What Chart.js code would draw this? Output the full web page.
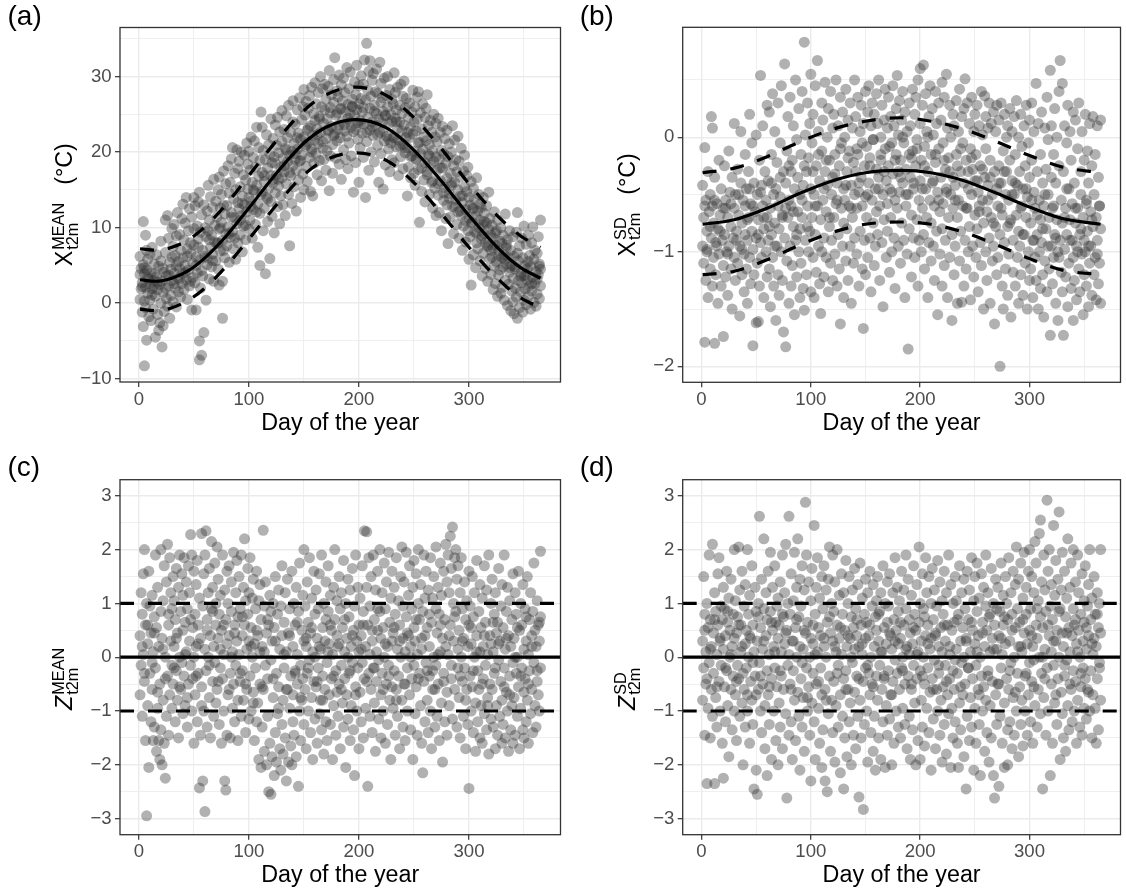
<!DOCTYPE html>
<html lang="en">
<head>
<meta charset="UTF-8">
<title>Seasonal cycle of t2m mean and sd</title>
<script src="https://cdn.jsdelivr.net/npm/chart.js"></script>
<style>
  body { margin: 0; background: #fff; }
  #wrap { position: relative; width: 1126px; height: 893px; background: #fff; overflow: hidden; }
  .cell { position: absolute; }
</style>
</head>
<body>
<div id="wrap">
  <div class="cell" style="left:0;top:0"><canvas id="ca" width="566" height="446"></canvas></div>
  <div class="cell" style="left:566px;top:0"><canvas id="cb" width="560" height="446"></canvas></div>
  <div class="cell" style="left:0;top:446px"><canvas id="cc" width="566" height="447"></canvas></div>
  <div class="cell" style="left:566px;top:446px"><canvas id="cd" width="560" height="447"></canvas></div>
</div>
<script>
const FONT = "'Liberation Sans', Arial, sans-serif";

// x axis (day of the year), shared by all panels
const xMajor = [0, 100, 200, 300];
const xTickLabels = ['0', '100', '200', '300'];
const xMinor = [50, 150, 250, 350];

// y ticks per panel
const yMajorA = [-10, 0, 10, 20, 30];
const yLabelsA = ['\u221210', '0', '10', '20', '30'];
const yMinorA = [-5, 5, 15, 25, 35];
const yMajorB = [-2, -1, 0];
const yLabelsB = ['\u22122', '\u22121', '0'];
const yMinorB = [-1.5, -0.5, 0.5];
const yMajorZ = [-3, -2, -1, 0, 1, 2, 3];
const yLabelsZ = ['\u22123', '\u22122', '\u22121', '0', '1', '2', '3'];
const yMinorZ = [-2.5, -1.5, -0.5, 0.5, 1.5, 2.5];

// fitted seasonal curves, panel (a)
const curveDaysA = [1, 16, 30, 45, 60, 80, 100, 125, 150, 170, 197, 225, 249, 273, 300, 325, 346, 365];
const meanA  = [3.1, 2.9, 3.3, 4.3, 6.0, 9.0, 12.6, 17.2, 21.2, 23.3, 24.3, 23.2, 20.4, 16.5, 11.6, 7.5, 4.8, 3.3];
const upperA = [7.2, 7.0, 7.4, 8.4, 10.1, 13.2, 16.9, 21.5, 25.5, 27.6, 28.6, 27.5, 24.7, 20.8, 15.8, 11.7, 9.0, 7.4];
const lowerA = [-0.8, -1.0, -0.6, 0.4, 2.0, 5.0, 8.5, 13.0, 17.0, 19.0, 19.9, 18.9, 16.1, 12.2, 7.4, 3.4, 0.8, -0.6];

// fitted seasonal curves, panel (b)
const curveDaysB = [1, 30, 60, 90, 120, 150, 182, 210, 240, 270, 300, 330, 365];
const meanB  = [-0.76, -0.72, -0.62, -0.49, -0.38, -0.31, -0.29, -0.31, -0.38, -0.49, -0.61, -0.71, -0.76];
const upperB = [-0.31, -0.27, -0.17, -0.04, 0.07, 0.14, 0.17, 0.14, 0.07, -0.04, -0.16, -0.26, -0.31];
const lowerB = [-1.2, -1.17, -1.07, -0.94, -0.83, -0.76, -0.74, -0.76, -0.83, -0.94, -1.06, -1.16, -1.2];

// reference levels for standardized panels
const zLevels = [1, 0, -1];

// observations [day, value]
const ptsA = [[1,3.8],[1,0.5],[1,6.2],[2,1.9],[2,4.6],[3,-1.2],[3,2.7],[4,10.8],[4,5.1],[4,-3.1],[5,0.3],[5,3.9],[5,-8.3],[6,9.0],[6,2.1],[6,-0.6],[7,4.4],[7,7.0],[7,-4.9],[8,1.3],[8,5.8],[9,-1.8],[9,3.2],[10,0.4],[10,6.5],[10,2.6],
[11,-2.3],[11,4.0],[12,1.1],[12,7.4],[13,3.0],[13,-0.8],[14,5.2],[14,2.2],[15,-4.5],[15,0.9],[16,6.4],[16,3.5],[17,-1.5],[17,1.8],[18,-3.6],[18,4.9],[19,2.5],[19,-2.6],[20,0.0],[20,5.6],[20,8.2],
[21,-5.8],[21,2.9],[22,-3.0],[22,1.4],[23,4.1],[23,-1.1],[24,11.0],[24,6.7],[25,0.6],[25,3.6],[26,11.6],[26,-0.4],[27,2.3],[27,8.6],[28,5.4],[28,-2.0],[29,1.0],[29,4.5],[30,9.9],[30,3.0],[30,6.1],
[31,0.2],[31,7.5],[32,4.0],[32,10.4],[33,2.0],[33,6.3],[34,-0.5],[34,8.9],[35,3.3],[35,12.0],[36,5.5],[36,1.5],[37,9.1],[37,4.6],[38,7.0],[38,0.8],[39,11.2],[39,2.6],[40,6.0],[40,13.1],[40,3.9],
[41,8.4],[41,1.8],[42,5.0],[42,10.6],[43,3.1],[43,14.0],[44,7.2],[44,0.5],[45,9.6],[45,4.4],[46,12.5],[46,2.3],[47,6.6],[47,8.0],[48,-0.9],[48,11.4],[49,5.3],[49,3.4],[50,14.0],[50,7.7],[50,9.9],
[51,2.7],[51,12.9],[52,-0.9],[52,6.1],[53,10.2],[53,4.0],[54,8.5],[54,13.4],[55,-7.5],[55,-5.0],[55,14.7],[55,5.7],[56,9.4],[56,2.0],[57,-6.9],[57,11.7],[58,7.0],[58,3.6],[59,-3.9],[59,13.0],[60,6.2],[60,10.0],
[61,0.4],[61,8.8],[62,12.2],[62,5.1],[63,15.6],[63,9.6],[64,3.2],[64,11.0],[65,7.4],[65,14.1],[66,4.8],[66,9.0],[67,12.7],[67,6.5],[68,16.4],[68,2.9],[69,10.3],[69,8.1],[70,13.5],[70,5.6],
[71,11.4],[71,7.9],[72,15.0],[72,4.5],[73,2.4],[73,16.7],[73,9.8],[74,12.6],[74,6.9],[75,14.4],[75,10.7],[76,2.9],[76,-2.0],[76,8.3],[77,13.0],[77,17.5],[78,6.0],[78,11.8],[79,15.8],[79,9.2],[80,7.6],[80,12.9],
[81,18.2],[81,10.1],[82,5.4],[82,14.6],[83,8.7],[83,16.0],[84,12.0],[84,19.1],[85,20.6],[85,9.5],[86,13.8],[86,7.2],[87,17.2],[87,11.3],[88,15.0],[88,5.8],[89,20.3],[89,10.5],[90,13.3],[90,8.0],[90,17.8],
[91,12.5],[91,18.8],[92,9.0],[92,15.4],[93,20.0],[93,11.6],[94,6.8],[94,14.2],[95,17.0],[95,10.2],[96,19.6],[96,13.0],[97,8.4],[97,16.3],[98,21.2],[98,12.1],[99,15.1],[99,18.4],[100,9.8],[100,14.0],[100,20.1],
[101,11.0],[101,17.6],[102,22.0],[102,13.5],[103,8.6],[103,16.0],[104,19.3],[104,12.4],[105,14.8],[105,21.5],[106,10.4],[106,18.0],[107,15.6],[107,23.3],[108,13.1],[108,7.4],[109,20.6],[109,16.8],[110,5.0],[110,11.9],[110,18.9],
[111,25.3],[111,14.4],[112,23.3],[112,17.3],[113,9.6],[113,20.2],[114,12.6],[114,16.1],[115,3.9],[115,19.0],[116,22.3],[116,14.0],[117,10.8],[117,17.9],[118,21.0],[118,15.2],[119,5.9],[119,19.7],[120,24.4],[120,13.4],[120,16.9],
[121,18.6],[121,11.5],[122,21.8],[122,15.9],[123,9.3],[123,19.4],[124,23.6],[124,14.6],[125,17.0],[125,20.9],[126,12.8],[126,24.6],[127,16.4],[127,19.9],[128,22.7],[128,10.5],[129,18.0],[129,14.2],[130,21.4],[130,25.5],[130,16.6],
[131,13.0],[131,19.2],[132,23.0],[132,17.4],[133,20.5],[133,11.6],[134,15.8],[134,24.8],[135,18.7],[135,21.9],[136,14.4],[136,26.2],[137,7.6],[137,19.6],[138,22.6],[138,16.9],[139,20.1],[139,13.2],[140,24.0],[140,18.2],[140,26.8],
[141,15.4],[141,21.2],[142,19.0],[142,23.7],[143,12.2],[143,17.6],[144,25.6],[144,20.4],[145,16.3],[145,22.5],[146,27.2],[146,18.8],[147,14.0],[147,21.7],[148,24.3],[148,19.6],[149,17.1],[149,26.0],[150,28.3],[150,22.0],[150,15.0],
[151,20.8],[151,24.9],[152,18.1],[152,26.7],[153,22.9],[153,16.1],[154,21.3],[154,25.8],[155,19.3],[155,27.5],[156,23.5],[156,14.8],[157,20.0],[157,28.6],[158,14.2],[158,22.2],[159,25.1],[159,18.5],[160,29.2],[160,21.6],[160,24.2],
[161,19.8],[161,26.4],[162,23.1],[162,17.0],[163,27.9],[163,21.1],[164,24.7],[164,18.9],[165,30.0],[165,22.6],[166,16.2],[166,26.0],[167,20.5],[167,28.4],[168,23.8],[168,19.0],[169,25.6],[169,29.0],[170,21.8],[170,17.6],[170,27.0],
[171,24.4],[171,20.2],[172,28.7],[172,22.8],[173,14.9],[173,30.8],[174,25.9],[174,19.5],[175,23.4],[175,27.6],[176,21.0],[176,17.2],[177,26.6],[177,29.6],[178,32.5],[178,22.4],[179,24.9],[179,19.2],[180,28.1],[180,25.2],[180,21.5],
[181,23.0],[181,27.3],[182,18.4],[182,30.2],[183,25.7],[183,21.9],[184,28.9],[184,16.4],[185,24.1],[185,26.8],[186,20.3],[186,29.8],[187,23.6],[187,27.9],[188,19.0],[188,25.4],[189,31.2],[189,22.1],[190,26.3],[190,24.5],[190,17.8],
[191,28.4],[191,21.2],[192,25.0],[192,30.6],[193,23.3],[193,19.5],[194,27.0],[194,26.1],[195,14.7],[195,22.7],[196,29.3],[196,24.8],[197,18.6],[197,27.6],[198,25.6],[198,31.5],[199,21.7],[199,23.9],[200,28.8],[200,16.0],[200,26.4],
[201,24.2],[201,20.6],[202,30.1],[202,27.1],[203,22.5],[203,25.3],[204,19.3],[204,29.0],[205,32.2],[205,23.7],[206,14.0],[206,26.9],[207,34.4],[207,21.4],[208,28.2],[208,24.6],[209,17.6],[209,30.7],[210,32.1],[210,25.8],[210,22.9],
[211,27.4],[211,20.0],[212,24.0],[212,29.5],[213,30.4],[213,22.2],[214,26.2],[214,18.7],[215,28.0],[215,23.5],[216,25.1],[216,31.0],[217,20.9],[217,27.8],[218,24.4],[218,16.0],[219,31.9],[219,22.6],[220,26.6],[220,29.1],[220,19.8],
[221,23.9],[221,27.2],[222,15.1],[222,25.4],[223,21.5],[223,29.8],[224,24.8],[224,18.3],[225,27.5],[225,22.1],[226,26.0],[226,30.0],[227,20.4],[227,23.8],[228,28.3],[228,17.4],[229,25.0],[229,21.2],[230,27.0],[230,24.1],[230,19.0],
[231,26.4],[231,22.0],[232,30.5],[232,18.6],[233,24.5],[233,27.9],[234,20.7],[234,25.6],[235,23.1],[235,28.6],[236,16.9],[236,21.6],[237,26.2],[237,24.0],[238,19.4],[238,29.0],[239,22.8],[239,25.1],[240,17.8],[240,27.4],[240,21.0],
[241,29.4],[241,23.6],[242,19.9],[242,25.9],[243,22.0],[243,27.1],[244,14.2],[244,20.6],[245,24.6],[245,18.0],[246,26.5],[246,21.9],[247,16.6],[247,23.3],[248,25.3],[248,19.5],[249,28.2],[249,22.4],[250,17.2],[250,24.0],[250,20.1],
[251,26.0],[251,15.6],[252,22.8],[252,19.0],[253,24.4],[253,27.3],[254,28.0],[254,17.7],[255,21.3],[255,10.7],[256,25.2],[256,19.8],[257,14.8],[257,23.1],[258,20.4],[258,26.4],[259,16.3],[259,22.0],[260,18.6],[260,24.6],[260,13.4],
[261,21.5],[261,25.8],[262,27.6],[262,17.0],[263,19.7],[263,23.5],[264,14.4],[264,21.0],[265,24.2],[265,18.3],[266,16.0],[266,22.6],[267,20.2],[267,12.6],[268,25.0],[268,18.8],[269,15.2],[269,22.0],[270,19.4],[270,11.6],[270,23.8],
[271,17.6],[271,21.4],[272,14.3],[272,24.5],[273,19.0],[273,12.0],[274,22.6],[274,16.2],[275,20.2],[275,9.6],[276,17.9],[276,23.4],[277,13.6],[277,19.8],[278,15.3],[278,21.8],[279,11.2],[279,18.5],[280,16.6],[280,22.9],[280,13.0],
[281,7.9],[281,19.4],[282,14.5],[282,21.1],[283,17.2],[283,11.4],[284,20.0],[284,15.6],[285,23.5],[285,12.8],[286,18.2],[286,9.2],[287,16.0],[287,21.6],[288,13.7],[288,19.0],[289,10.4],[289,17.4],[290,15.0],[290,22.1],[290,12.1],
[291,18.8],[291,8.6],[292,14.2],[292,16.7],[293,11.6],[293,20.5],[294,13.3],[294,7.0],[295,17.5],[295,10.2],[296,15.4],[296,19.6],[297,12.4],[297,8.1],[298,14.8],[298,16.9],[299,9.6],[299,18.0],[300,11.3],[300,5.8],[300,14.0],
[301,13.0],[301,8.8],[302,2.4],[302,16.1],[303,10.7],[303,12.6],[304,6.4],[304,15.2],[305,9.4],[305,13.8],[306,11.5],[306,4.7],[307,8.0],[307,16.6],[308,12.2],[308,7.2],[309,14.4],[309,10.0],[310,5.6],[310,11.0],[310,13.1],
[311,8.5],[311,12.7],[312,3.6],[312,10.4],[313,14.0],[313,6.6],[314,9.2],[314,11.9],[315,4.6],[315,8.0],[316,12.9],[316,10.6],[317,2.9],[317,7.5],[318,14.7],[318,9.8],[319,5.9],[319,11.2],[320,7.0],[320,3.8],[320,9.0],
[321,10.3],[321,6.1],[322,1.8],[322,8.6],[323,12.1],[323,4.9],[324,7.7],[324,2.6],[325,9.6],[325,5.5],[326,11.0],[326,0.9],[327,6.9],[327,3.7],[328,8.2],[328,4.4],[329,1.3],[329,10.0],[330,6.0],[330,2.1],[330,7.9],
[331,4.8],[331,9.0],[332,0.4],[332,6.4],[333,11.8],[333,3.0],[334,7.3],[334,5.2],[335,-0.3],[335,8.4],[336,2.5],[336,6.0],[337,9.6],[337,4.1],[338,-1.0],[338,7.0],[339,1.6],[339,5.0],[340,3.3],[340,8.8],[340,0.2],
[341,6.2],[341,-1.4],[342,4.5],[342,2.0],[343,9.4],[343,0.8],[344,12.0],[344,-2.0],[345,5.6],[345,3.0],[346,7.6],[346,-0.6],[347,1.5],[347,4.0],[348,8.6],[348,2.7],[349,-1.2],[349,6.0],[350,3.6],[350,0.4],[350,10.2],
[351,5.0],[351,1.9],[352,7.8],[352,-0.2],[353,3.1],[353,4.6],[354,9.0],[354,0.9],[355,6.3],[355,2.3],[356,-0.8],[356,4.9],[357,8.0],[357,1.6],[358,10.1],[358,3.4],[359,5.8],[359,0.1],[360,2.6],[360,7.0],[361,4.2],[361,-0.4],[362,1.2],[362,6.6],[363,3.8],[363,8.8],[364,0.6],[364,5.2],[365,11.0],[365,2.3],[365,4.5]];
// denser core near the seasonal curve
const ptsA2 = [[3,2.2],[5,4.7],[8,3.4],[12,1.9],[14,3.9],[17,2.8],[22,4.6],[24,2.0],[27,3.7],[32,2.6],[34,5.0],[37,3.2],[42,4.1],[44,6.2],[47,2.9],[52,5.0],[54,7.4],[57,4.3],[62,6.0],[64,8.4],[67,5.6],[72,8.0],[74,10.0],[77,7.0],[82,9.2],[84,11.4],[87,8.6],[92,11.0],[94,13.2],[97,10.3],[102,12.8],[104,15.0],[107,12.1],[112,14.8],[114,16.9],[117,13.8],[122,16.4],[124,18.5],[127,15.5],[132,18.2],[134,20.3],[137,17.3],[142,19.8],[144,21.9],[147,18.9],[152,21.0],[154,23.2],[157,20.4],[162,22.3],[164,24.4],[167,21.4],[172,23.0],[174,25.2],[177,22.2],[182,23.6],[184,25.8],[187,22.8],[192,24.0],[194,26.0],[197,23.0],[202,23.8],[204,25.9],[207,22.6],[212,23.4],[214,25.4],[217,22.3],[222,22.8],[224,24.9],[227,21.7],[232,21.9],[234,24.0],[237,20.8],[242,20.6],[244,22.6],[247,19.4],[252,19.1],[254,21.2],[257,17.9],[262,17.4],[264,19.5],[267,16.2],[272,15.8],[274,17.9],[277,14.6],[282,13.9],[284,15.9],[287,12.7],[292,12.2],[294,14.2],[297,10.9],[302,10.6],[304,12.5],[307,9.3],[312,8.9],[314,10.8],[317,7.7],[322,7.3],[324,9.3],[327,6.2],[332,5.8],[334,7.7],[337,4.7],[342,4.8],[344,6.6],[347,3.6],[352,3.7],[354,5.5],[357,2.6],[362,3.2],[364,4.9]];

const ptsB = [[1,-0.95],[1,-0.42],[2,-1.1],[2,-0.7],[3,-1.79],[3,-0.09],[4,-0.55],[4,-1.25],[5,-0.82],[5,-1.0],[6,-0.3],[6,-1.4],[7,-0.65],[8,-1.15],[8,-0.5],[9,0.18],[9,-0.88],[10,-1.3],[10,-0.6],[10,0.08],
[11,-1.05],[11,-0.75],[12,-1.8],[12,-0.35],[13,-0.92],[13,-1.2],[14,-0.58],[15,-1.45],[15,-0.8],[16,-0.2],[16,-1.02],[17,-0.68],[18,-1.3],[18,-0.45],[19,-0.9],[20,-1.74],[20,-0.62],[20,-1.12],
[21,-0.85],[21,-0.25],[22,-1.22],[22,-0.55],[23,-1.0],[24,-0.7],[24,-1.38],[25,-0.12],[25,-0.95],[26,-0.48],[27,-1.15],[27,-0.78],[28,-1.5],[28,-0.35],[29,-0.88],[30,0.12],[30,-1.05],[30,-0.62],
[31,-1.25],[31,-0.5],[32,-0.82],[33,-1.1],[33,-0.28],[34,-0.68],[35,-1.56],[35,-0.95],[36,-0.4],[36,0.05],[37,-1.2],[37,-0.75],[38,-0.55],[39,-1.02],[39,-1.35],[40,-0.15],[40,-0.85],[40,-0.6],
[41,-1.15],[41,-0.45],[42,-0.9],[42,-1.45],[43,-0.3],[43,-0.7],[44,0.2],[44,-1.05],[45,-0.58],[45,-1.28],[46,-0.82],[46,-0.05],[47,-1.82],[47,-0.98],[48,-0.4],[48,-1.2],[49,-0.65],[50,-1.62],[50,-0.88],[50,0.02],
[51,-0.5],[51,-1.1],[52,-1.61],[52,-0.72],[53,-0.2],[53,-1.3],[54,0.54],[54,-0.92],[55,-0.42],[55,-1.05],[56,-0.6],[56,0.1],[57,-1.4],[57,-0.8],[58,-0.3],[59,-1.0],[59,-0.55],[60,-1.22],[60,0.28],[60,-0.7],
[61,-0.9],[61,-0.38],[62,-1.15],[62,0.22],[63,-0.62],[63,-1.48],[64,-0.15],[64,-0.85],[65,-1.05],[65,0.38],[66,-0.5],[66,-1.3],[67,-0.75],[67,0.05],[68,-1.6],[68,-0.45],[69,-0.95],[69,-0.22],[70,-1.2],[70,-0.6],[70,0.3],
[71,-0.8],[71,-1.38],[72,-0.05],[72,-0.52],[73,-1.0],[73,0.45],[74,-0.68],[74,-1.25],[75,-0.3],[75,-1.7],[76,0.64],[76,-0.88],[77,-1.83],[77,-0.4],[78,-0.12],[78,-1.08],[79,-0.7],[79,0.18],[80,-1.45],[80,-0.55],[80,-0.25],
[81,-0.95],[81,0.35],[82,-1.3],[82,-0.6],[83,-0.2],[83,-1.12],[84,0.1],[84,-0.78],[85,-1.55],[85,-0.45],[86,-0.9],[86,0.5],[87,-0.02],[87,-1.22],[88,-0.65],[88,-0.35],[89,-1.0],[89,0.25],[90,-1.4],[90,-0.5],[90,-0.8],
[91,-0.15],[91,-1.1],[92,0.4],[92,-0.7],[93,-1.32],[93,-0.42],[94,0.83],[94,-1.51],[95,-0.9],[95,0.02],[96,-0.3],[96,-1.2],[97,0.3],[97,-0.6],[98,-1.0],[98,-0.18],[99,0.12],[99,-0.82],[100,-1.35],[100,-0.45],[100,0.55],
[101,-0.7],[101,-0.05],[102,-1.05],[102,0.2],[103,-0.5],[103,-1.4],[104,0.45],[104,-0.85],[105,-0.25],[105,-1.18],[106,0.67],[106,-0.6],[107,-0.95],[107,0.05],[108,-0.38],[108,-1.28],[109,-1.54],[109,-0.72],[110,0.3],[110,-0.12],[110,-1.0],
[111,-0.55],[111,0.15],[112,-0.88],[112,-1.22],[113,-0.3],[113,0.48],[114,-0.65],[114,-1.05],[115,0.0],[115,-0.42],[116,-1.35],[116,0.25],[117,-0.78],[117,-0.2],[118,-1.1],[118,0.4],[119,-0.5],[119,-0.9],[120,0.08],[120,-1.25],[120,-0.35],
[121,-0.7],[121,0.2],[122,-1.02],[122,-0.15],[123,0.5],[123,-0.58],[124,-1.3],[124,-0.4],[125,0.1],[125,-0.85],[126,-0.25],[126,-1.15],[127,-1.63],[127,0.35],[128,-0.62],[128,-0.05],[129,-0.95],[129,0.22],[130,-0.45],[130,-1.4],[130,-0.75],
[131,0.0],[131,-0.55],[132,-1.08],[132,0.42],[133,-0.3],[133,-0.8],[134,0.15],[134,-1.25],[135,-0.6],[135,-0.12],[136,0.3],[136,-0.95],[137,-0.42],[137,-1.45],[138,0.08],[138,-0.7],[139,-0.22],[139,-1.1],[140,0.5],[140,-0.5],[140,-0.88],
[141,-0.3],[141,0.18],[142,-1.02],[142,-0.62],[143,0.35],[143,-0.15],[144,-1.3],[144,-0.48],[145,0.05],[145,-0.82],[146,-0.35],[146,0.28],[147,-1.15],[147,-0.6],[148,-1.67],[148,0.12],[149,-0.25],[149,-0.9],[150,0.4],[150,-0.52],[150,-1.2],
[151,-0.08],[151,-0.7],[152,0.22],[152,-1.05],[153,-0.4],[153,0.45],[154,-0.88],[154,-0.18],[155,0.1],[155,-1.35],[156,-0.55],[156,0.3],[157,-0.75],[157,-0.02],[158,-1.12],[158,0.2],[159,-0.45],[159,-0.95],[160,0.38],[160,-0.28],[160,-0.65],
[161,0.12],[161,-0.85],[162,-0.35],[162,0.5],[163,-1.25],[163,-0.6],[164,0.0],[164,-0.2],[165,-0.92],[165,0.28],[166,-0.5],[166,-1.48],[167,0.15],[167,-0.72],[168,-0.1],[168,0.42],[169,-1.05],[169,-0.38],[170,0.08],[170,-0.58],[170,-0.82],
[171,-0.25],[171,0.35],[172,-1.18],[172,-0.45],[173,0.18],[173,-0.7],[174,-0.05],[174,-1.0],[175,0.45],[175,-0.32],[176,-0.88],[176,0.1],[177,-0.55],[177,-1.32],[178,0.25],[178,-0.15],[179,0.54],[179,-0.62],[180,-0.95],[180,-0.3],[180,0.02],
[181,-0.48],[181,0.32],[182,-1.1],[182,-0.2],[183,0.15],[183,-0.75],[184,-0.4],[184,0.4],[185,-0.9],[185,-0.05],[186,-1.4],[186,0.22],[187,-0.6],[187,-0.28],[188,0.05],[188,-1.02],[189,-1.85],[189,-0.5],[190,0.3],[190,-0.15],[190,-0.8],
[191,-0.35],[191,0.1],[192,-0.68],[192,-1.22],[193,0.42],[193,-0.12],[194,-0.88],[194,-0.45],[195,0.2],[195,-1.05],[196,-0.25],[196,0.35],[197,-0.72],[197,-0.02],[198,-1.3],[198,0.5],[199,-0.55],[199,-0.9],[200,0.12],[200,-0.38],[200,0.6],
[201,-1.0],[201,-0.2],[202,0.28],[202,-0.62],[203,0.63],[203,-0.85],[204,-0.08],[204,-1.15],[205,0.38],[205,-0.45],[206,-0.7],[206,0.05],[207,-1.4],[207,-0.3],[208,0.18],[208,-0.92],[209,-0.55],[209,0.45],[210,-0.15],[210,-1.08],[210,-0.75],
[211,0.25],[211,-0.4],[212,-0.95],[212,0.02],[213,-1.25],[213,-0.6],[214,0.4],[214,-0.22],[215,-0.82],[215,0.12],[216,-0.48],[216,-1.55],[217,0.3],[217,-0.1],[218,-1.02],[218,-0.65],[219,0.15],[219,-0.35],[220,-1.3],[220,-0.8],[220,0.48],
[221,-0.05],[221,-0.58],[222,0.35],[222,-1.12],[223,-0.28],[223,-0.9],[224,0.55],[224,-0.45],[225,-1.4],[225,0.08],[226,-0.7],[226,-0.18],[227,0.28],[227,-1.05],[228,-0.5],[228,0.0],[229,-0.85],[229,-1.6],[230,0.2],[230,-0.35],[230,-0.62],
[231,-1.2],[231,0.1],[232,-0.42],[232,-0.95],[233,0.32],[233,-0.15],[234,-0.7],[234,-1.45],[235,0.05],[235,-0.55],[236,-1.08],[236,0.42],[237,-0.3],[237,-0.82],[238,-1.44],[238,0.18],[239,-0.6],[239,-0.05],[240,-1.3],[240,-0.4],[240,0.25],
[241,-0.9],[241,0.51],[242,-0.2],[242,-1.15],[243,0.3],[243,-0.62],[244,-0.45],[244,-1.0],[245,0.12],[245,-0.78],[246,-1.42],[246,-0.1],[247,0.35],[247,-0.5],[248,-0.95],[248,-0.28],[249,0.05],[249,-1.22],[250,-0.68],[250,0.2],[250,-0.38],
[251,-1.05],[251,-0.15],[252,0.28],[252,-0.8],[253,-0.48],[253,-1.35],[254,0.1],[254,-0.6],[255,-0.92],[255,-0.25],[256,0.4],[256,-1.12],[257,-0.55],[257,0.02],[258,-0.75],[258,-1.5],[259,0.36],[259,-0.35],[260,-1.0],[260,-0.1],[260,0.18],
[261,-0.65],[261,-1.25],[262,0.08],[262,-0.42],[263,-0.88],[263,0.3],[264,-1.45],[264,-0.2],[265,-0.7],[265,0.12],[266,-1.08],[266,-0.5],[267,0.22],[267,-0.95],[268,-1.63],[268,-0.3],[269,0.05],[269,-0.78],[270,-1.2],[270,-0.45],[270,0.28],
[271,-0.6],[271,-1.05],[272,0.15],[272,-0.25],[273,-2.0],[273,-0.85],[274,-0.4],[274,0.3],[275,-1.3],[275,-0.68],[276,-0.12],[276,-1.5],[277,0.2],[277,-0.92],[278,-0.5],[278,-1.15],[279,0.0],[279,-0.3],[280,-0.78],[280,-1.38],[280,0.1],
[281,-0.55],[281,-1.02],[282,0.25],[282,-0.2],[283,-1.57],[283,-0.72],[284,-0.38],[284,0.05],[285,-1.18],[285,-0.9],[286,0.18],[286,-0.5],[287,-1.3],[287,-0.15],[288,-0.68],[288,0.32],[289,-1.05],[289,-0.42],[290,-0.82],[290,0.0],[290,-1.45],
[291,-0.3],[291,-0.95],[292,0.2],[292,-1.2],[293,-0.6],[293,-0.08],[294,-1.38],[294,-0.45],[295,0.1],[295,-0.85],[296,-1.1],[296,-0.25],[297,0.28],[297,-0.7],[298,-1.5],[298,-0.52],[299,-0.05],[299,-1.0],[300,-0.35],[300,0.15],[300,-1.25],
[301,-0.75],[301,-1.15],[302,-0.2],[302,0.3],[303,-0.9],[303,-1.4],[304,-0.48],[304,0.05],[305,-1.05],[305,-0.62],[306,0.47],[306,-1.25],[307,-0.3],[307,-0.85],[308,-1.5],[308,0.12],[309,-0.55],[309,-1.0],[310,-0.15],[310,-1.32],[310,-0.72],
[311,0.22],[311,-0.92],[312,-0.4],[312,-1.2],[313,-1.57],[313,-0.6],[314,0.08],[314,-1.08],[315,-0.28],[315,-0.8],[316,0.35],[316,-1.35],[317,-0.5],[317,-0.02],[318,-1.15],[318,-0.7],[319,0.585],[319,-1.73],[320,-0.95],[320,-0.35],[320,0.1],
[321,-1.28],[321,-0.62],[322,-0.15],[322,-1.05],[323,0.25],[323,-0.85],[324,-1.45],[324,-0.4],[325,-0.72],[325,0.0],[326,-1.6],[326,-1.0],[327,-0.25],[327,0.4],[328,0.67],[328,-0.9],[329,-1.18],[329,-0.55],[330,0.47],[330,-1.35],[330,-0.75],
[331,-1.73],[331,-0.3],[332,-0.98],[332,0.1],[333,-0.62],[333,-1.22],[334,-0.05],[334,-0.85],[335,-1.48],[335,0.28],[336,-0.45],[336,-1.1],[337,-0.72],[337,0.05],[338,-1.32],[338,-0.2],[339,-0.9],[339,-0.58],[340,-1.6],[340,0.22],[340,-1.05],
[341,-0.4],[341,-1.25],[342,-0.75],[342,0.15],[343,-1.42],[343,-0.95],[344,-0.1],[344,-0.62],[345,-1.15],[345,0.3],[346,-0.85],[346,-1.35],[347,-0.3],[347,-0.5],[348,-1.02],[348,0.05],[349,-1.55],[349,-0.7],[350,-0.2],[350,-1.2],[350,-0.9],
[351,0.2],[351,-1.0],[352,-0.58],[352,-1.3],[353,-0.12],[353,-0.82],[354,-1.48],[354,-0.4],[355,0.12],[355,-1.1],[356,-0.65],[356,-0.95],[357,-1.38],[357,-0.25],[358,-0.78],[358,0.18],[359,-1.2],[359,-0.5],[360,-1.05],[360,-0.15],[361,-1.42],[361,-0.7],[362,0.1],[362,-0.9],[363,-1.28],[363,-0.35],[364,-0.6],[364,-1.1],[365,0.15],[365,-0.8],[365,-1.45]];
const ptsB2 = [[3,-0.6],[5,-0.98],[8,-0.78],[12,-0.55],[14,-0.95],[17,-0.82],[22,-0.62],[24,-1.02],[27,-0.58],[32,-0.9],[34,-0.5],[37,-0.98],[42,-0.72],[44,-0.45],[47,-0.6],[52,-0.85],[54,-0.48],[57,-0.7],[62,-0.78],[64,-0.4],[67,-0.95],[72,-0.35],[74,-0.7],[77,-0.62],[82,-0.3],[84,-0.65],[87,-0.85],[92,-0.55],[94,-0.25],[97,-0.78],[102,-0.3],[104,-0.6],[107,-0.15],[112,-0.45],[114,-0.2],[117,-0.7],[122,-0.32],[124,-0.55],[127,-0.1],[132,-0.42],[134,-0.18],[137,-0.62],[142,-0.1],[144,-0.4],[147,-0.05],[152,-0.5],[154,-0.25],[157,-0.02],[162,-0.45],[164,-0.15],[167,-0.3],[172,-0.08],[174,-0.48],[177,-0.2],[182,-0.35],[184,0.0],[187,-0.5],[192,-0.18],[194,-0.4],[197,-0.1],[202,-0.45],[204,-0.25],[207,0.0],[212,-0.38],[214,-0.15],[217,-0.55],[222,-0.2],[224,-0.48],[227,-0.3],[232,-0.55],[234,-0.25],[237,-0.1],[242,-0.62],[244,-0.3],[247,-0.18],[252,-0.38],[254,-0.65],[257,-0.28],[262,-0.55],[264,-0.35],[267,-0.75],[272,-0.4],[274,-0.62],[277,-0.3],[282,-0.75],[284,-0.5],[287,-0.4],[292,-0.62],[294,-0.85],[297,-0.45],[302,-0.55],[304,-0.9],[307,-0.68],[312,-0.8],[314,-0.5],[317,-0.95],[322,-0.6],[324,-0.88],[327,-1.05],[332,-0.7],[334,-0.45],[337,-0.9],[342,-0.62],[344,-1.0],[347,-0.8],[352,-0.55],[354,-0.95],[357,-0.72],[362,-1.02],[364,-0.6]];

const ptsC = [[1,0.4],[1,-0.7],[2,1.2],[2,-0.15],[3,0.8],[3,-1.1],[4,1.55],[4,0.05],[5,2.0],[5,-0.45],[6,-1.55],[6,0.6],[7,-2.95],[7,1.0],[8,-0.9],[8,0.25],[9,-2.05],[9,1.6],[10,-0.3],[10,0.95],
[11,-1.2],[11,0.45],[12,1.15],[12,-0.6],[13,-1.55],[13,0.1],[14,0.75],[14,-1.3],[15,1.9],[15,-0.2],[16,-1.75],[16,0.55],[17,-0.95],[17,1.3],[18,-1.55],[18,0.2],[19,-1.9],[19,-0.5],[20,2.0],[20,0.85],[20,-1.35],
[21,-2.0],[21,0.35],[22,1.05],[22,-0.8],[23,-1.6],[23,1.7],[24,-2.25],[24,0.0],[25,1.4],[25,-1.1],[26,2.1],[26,-0.35],[27,0.6],[27,-1.45],[28,1.85],[28,-0.7],[29,0.3],[29,1.2],[30,-0.15],[30,-0.95],[30,0.9],
[31,1.5],[31,-0.5],[32,0.2],[32,1.05],[33,-1.2],[33,0.7],[34,1.65],[34,-0.25],[35,-0.8],[35,0.45],[36,1.3],[36,-1.5],[37,0.0],[37,1.9],[38,-0.6],[38,0.85],[39,1.55],[39,-0.1],[40,-1.05],[40,0.5],[40,1.15],
[41,-0.35],[41,1.85],[42,0.65],[42,-0.9],[43,1.4],[43,0.1],[44,-1.3],[44,0.9],[45,1.7],[45,-0.5],[46,0.3],[46,1.2],[47,-0.15],[47,2.28],[48,1.9],[48,-1.0],[49,0.55],[49,-0.4],[50,1.6],[50,0.0],[50,-1.6],
[51,0.8],[51,-0.7],[52,1.35],[52,0.2],[53,-1.2],[53,1.8],[54,-0.3],[54,0.6],[55,-2.43],[55,1.1],[56,-1.45],[56,0.35],[57,2.3],[57,-0.55],[58,-2.3],[58,0.95],[59,1.55],[59,-1.0],[60,-2.87],[60,0.15],[60,1.9],
[61,2.35],[61,-0.25],[62,0.7],[62,-1.3],[63,1.2],[63,0.0],[64,-0.75],[64,1.65],[65,0.4],[65,-1.5],[66,2.15],[66,0.9],[67,-0.45],[67,1.3],[68,0.2],[68,-1.1],[69,1.75],[69,-0.1],[70,0.6],[70,-0.85],[70,1.0],
[71,2.05],[71,-0.6],[72,0.35],[72,1.45],[73,-1.25],[73,0.8],[74,-0.2],[74,1.15],[75,-1.6],[75,0.5],[76,1.9],[76,-0.4],[77,0.05],[77,-1.0],[78,-2.3],[78,1.25],[79,-2.47],[79,0.7],[80,-1.45],[80,0.25],[80,1.6],
[81,-0.7],[81,1.0],[82,0.4],[82,1.7],[83,-0.3],[83,-1.5],[84,0.85],[84,1.4],[85,-0.95],[85,0.1],[86,1.95],[86,-0.5],[87,0.6],[87,-1.2],[88,1.2],[88,-0.15],[89,0.3],[89,1.8],[90,-0.8],[90,0.75],[90,-1.55],
[91,1.5],[91,0.05],[92,-0.45],[92,0.9],[93,1.9],[93,-1.1],[94,0.4],[94,-0.25],[95,1.3],[95,-0.8],[96,2.2],[96,0.6],[97,-1.4],[97,1.05],[98,0.15],[98,-0.6],[99,1.65],[99,0.8],[100,-1.15],[100,0.3],[100,1.2],
[101,-0.35],[101,1.85],[102,0.55],[102,-1.0],[103,1.1],[103,0.0],[104,-0.65],[104,1.45],[105,0.25],[105,-1.55],[106,0.9],[106,-0.2],[107,1.6],[107,-1.2],[108,0.4],[108,-0.85],[109,1.05],[109,-1.9],[110,0.1],[110,-0.5],[110,1.35],
[111,-2.05],[111,0.7],[112,-1.3],[112,0.2],[113,2.36],[113,-0.6],[114,-1.75],[114,0.95],[115,-0.15],[115,1.4],[116,-2.0],[116,0.45],[117,-1.1],[117,-0.4],[118,-2.5],[118,0.6],[119,1.15],[119,-1.6],[120,-2.55],[120,-0.05],[120,0.85],
[121,-1.85],[121,0.3],[122,1.0],[122,-0.75],[123,-2.2],[123,0.55],[124,-1.4],[124,1.5],[125,-0.3],[125,-1.95],[126,0.8],[126,-1.05],[127,1.25],[127,-0.55],[128,-1.7],[128,0.15],[129,0.95],[129,-2.1],[130,-1.25],[130,0.4],[130,1.7],
[131,-0.8],[131,-1.8],[132,0.65],[132,-0.2],[133,1.2],[133,-1.5],[134,-2.3],[134,0.1],[135,-0.6],[135,1.45],[136,-1.95],[136,0.45],[137,-0.95],[137,0.9],[138,-1.65],[138,-0.35],[139,1.6],[139,-2.0],[140,0.2],[140,-1.2],[140,-0.7],
[141,1.0],[141,-1.45],[142,-0.25],[142,0.6],[143,-1.85],[143,1.3],[144,-0.5],[144,0.05],[145,-2.4],[145,0.85],[146,-1.0],[146,1.75],[147,-0.15],[147,-1.55],[148,0.5],[148,-0.8],[149,1.15],[149,-0.4],[150,-1.25],[150,0.3],[150,2.0],
[151,-0.6],[151,0.95],[152,0.2],[152,-1.7],[153,1.4],[153,-0.3],[154,-1.0],[154,0.65],[155,1.85],[155,-0.05],[156,-1.4],[156,0.45],[157,-0.75],[157,1.1],[158,0.1],[158,-1.9],[159,1.6],[159,-0.45],[160,0.8],[160,-1.15],[160,0.0],
[161,1.25],[161,-0.55],[162,-1.6],[162,0.35],[163,0.9],[163,-0.2],[164,-1.05],[164,1.55],[165,0.15],[165,-0.8],[166,1.9],[166,-1.35],[167,0.55],[167,-0.35],[168,-1.8],[168,1.0],[169,0.3],[169,-0.6],[170,1.4],[170,-1.2],[170,0.7],
[171,-0.1],[171,-1.55],[172,0.85],[172,1.7],[173,-0.7],[173,0.25],[174,-1.25],[174,1.15],[175,0.5],[175,-0.4],[176,-1.9],[176,0.05],[177,1.3],[177,-0.9],[178,0.7],[178,2.0],[179,-0.25],[179,-1.45],[180,0.4],[180,1.05],[180,-0.65],
[181,-1.1],[181,0.2],[182,1.5],[182,-0.5],[183,0.9],[183,-1.7],[184,-0.15],[184,1.2],[185,0.55],[185,-0.85],[186,-1.3],[186,1.8],[187,0.1],[187,-0.4],[188,1.0],[188,-2.05],[189,0.35],[189,-0.7],[190,1.45],[190,-1.15],[190,0.0],
[191,-0.3],[191,0.75],[192,-1.55],[192,1.25],[193,0.2],[193,-0.9],[194,1.65],[194,-0.1],[195,0.5],[195,-1.35],[196,-2.2],[196,0.95],[197,1.9],[197,-0.55],[198,0.3],[198,-1.0],[199,1.3],[199,-0.2],[200,-1.7],[200,0.6],[200,0.1],
[201,1.1],[201,-0.65],[202,-1.2],[202,0.4],[203,1.7],[203,-0.1],[204,0.85],[204,-1.5],[205,2.35],[205,-0.4],[206,0.2],[206,-0.95],[207,2.33],[207,1.3],[208,-2.4],[208,0.6],[209,-0.3],[209,1.85],[210,-1.1],[210,0.05],[210,0.95],
[211,-0.6],[211,1.5],[212,0.3],[212,-1.4],[213,1.9],[213,-0.2],[214,0.7],[214,-0.85],[215,1.25],[215,-1.75],[216,0.1],[216,-0.45],[217,1.6],[217,0.5],[218,-1.15],[218,-0.05],[219,2.0],[219,0.85],[220,-0.7],[220,-1.5],[220,0.35],
[221,1.2],[221,-0.3],[222,0.55],[222,-1.0],[223,1.75],[223,0.0],[224,-1.6],[224,0.9],[225,-0.5],[225,1.4],[226,0.2],[226,-1.25],[227,1.95],[227,-0.15],[228,0.65],[228,-0.8],[229,-1.9],[229,1.1],[230,0.3],[230,-0.55],[230,1.6],
[231,-0.95],[231,0.45],[232,1.3],[232,-0.25],[233,-1.45],[233,0.8],[234,1.85],[234,-0.6],[235,0.15],[235,-1.1],[236,1.05],[236,-0.35],[237,-1.7],[237,0.6],[238,1.5],[238,0.0],[239,-0.8],[239,2.05],[240,0.35],[240,-1.3],[240,0.95],
[241,-0.5],[241,1.4],[242,0.1],[242,-1.55],[243,0.75],[243,1.95],[244,-0.2],[244,-1.0],[245,1.15],[245,0.4],[246,-0.7],[246,1.7],[247,-1.35],[247,0.2],[248,0.9],[248,-0.4],[249,1.3],[249,-1.9],[250,0.55],[250,-0.15],[250,1.8],
[251,-1.05],[251,0.3],[252,1.55],[252,-0.55],[253,0.05],[253,-1.45],[254,1.0],[254,2.0],[255,-0.3],[255,0.7],[256,-0.9],[256,1.35],[257,0.15],[257,-1.6],[258,-2.15],[258,0.85],[259,1.9],[259,-0.45],[260,0.4],[260,-1.2],[260,1.1],
[261,-0.1],[261,1.6],[262,-0.8],[262,0.55],[263,1.25],[263,-1.4],[264,0.2],[264,-0.35],[265,1.85],[265,-1.0],[266,0.65],[266,-1.7],[267,1.1],[267,-0.25],[268,0.0],[268,1.5],[269,-0.6],[269,-1.3],[270,0.9],[270,2.05],[270,-0.15],
[271,-1.1],[271,0.45],[272,1.3],[272,-0.5],[273,-1.55],[273,0.8],[274,1.75],[274,0.1],[275,-0.85],[275,1.15],[276,-1.95],[276,0.35],[277,1.6],[277,-0.3],[278,0.7],[278,-1.2],[279,2.1],[279,0.2],[280,-0.65],[280,1.4],[280,-1.45],
[281,1.9],[281,0.05],[282,-0.9],[282,1.2],[283,2.25],[283,0.6],[284,-0.4],[284,1.65],[285,2.42],[285,-1.15],[286,1.0],[286,0.3],[287,1.85],[287,-0.6],[288,2.0],[288,0.85],[289,-1.3],[289,1.45],[290,0.15],[290,-0.2],[290,1.7],
[291,-0.75],[291,0.5],[292,1.2],[292,-1.5],[293,0.0],[293,1.85],[294,-0.45],[294,0.9],[295,-1.1],[295,0.35],[296,1.4],[296,-0.2],[297,-1.7],[297,0.7],[298,1.05],[298,-0.6],[299,0.2],[299,-1.25],[300,-2.44],[300,0.6],[300,1.6],
[301,-0.35],[301,0.95],[302,-1.0],[302,0.25],[303,1.5],[303,-0.55],[304,-1.4],[304,0.75],[305,0.0],[305,1.2],[306,-0.85],[306,-1.75],[307,0.4],[307,1.8],[308,-0.25],[308,-1.2],[309,0.85],[309,-0.6],[310,1.35],[310,-1.5],[310,0.1],
[311,-0.9],[311,0.55],[312,-1.6],[312,1.1],[313,0.2],[313,-0.4],[314,1.7],[314,-1.05],[315,0.65],[315,-0.15],[316,-1.35],[316,1.25],[317,0.05],[317,-0.75],[318,1.9],[318,-1.8],[319,0.4],[319,-0.5],[320,1.0],[320,-1.15],[320,0.25],
[321,-0.6],[321,1.45],[322,-1.3],[322,0.1],[323,0.8],[323,-0.3],[324,-1.7],[324,1.2],[325,0.45],[325,-0.9],[326,-1.45],[326,0.65],[327,1.65],[327,-0.05],[328,-1.1],[328,0.3],[329,0.95],[329,-0.45],[330,-1.6],[330,1.35],[330,-0.8],
[331,0.55],[331,-1.25],[332,-0.2],[332,1.9],[333,-1.5],[333,0.15],[334,0.85],[334,-0.65],[335,-1.0],[335,1.3],[336,0.4],[336,-1.75],[337,-0.35],[337,1.05],[338,-1.35],[338,0.2],[339,0.7],[339,-0.9],[340,1.55],[340,-0.1],[340,-1.6],
[341,0.35],[341,-0.75],[342,1.2],[342,-1.45],[343,-0.3],[343,0.8],[344,-1.1],[344,0.0],[345,1.6],[345,-0.55],[346,-1.7],[346,0.5],[347,1.0],[347,-0.95],[348,-0.2],[348,0.6],[349,-1.35],[349,1.35],[350,0.15],[350,-0.65],[350,-1.5],
[351,0.9],[351,-0.4],[352,-1.2],[352,0.3],[353,1.5],[353,-0.8],[354,0.05],[354,-1.6],[355,0.7],[355,-0.25],[356,1.2],[356,-1.05],[357,0.4],[357,-0.6],[358,-1.4],[358,0.85],[359,1.75],[359,-0.1],[360,-0.9],[360,0.5],[361,0.2],[361,-1.3],[362,1.05],[362,-0.45],[363,0.6],[363,-0.7],[364,-1.0],[364,0.3],[365,1.97],[365,-0.2],[365,0.75]];
const ptsC2 = [[3,0.2],[5,-0.3],[8,0.6],[12,-0.1],[14,0.45],[17,-0.65],[22,0.15],[24,-0.4],[27,0.8],[32,-0.2],[34,0.35],[37,-0.55],[42,0.05],[44,-0.75],[47,0.7],[52,-0.35],[54,0.25],[57,-0.9],[62,0.5],[64,-0.15],[67,0.85],[72,-0.45],[74,0.15],[77,0.6],[82,-0.6],[84,0.0],[87,0.45],[92,-0.3],[94,0.75],[97,-0.5],[102,0.2],[104,-0.85],[107,0.5],[112,-0.55],[114,0.1],[117,0.7],[122,-0.4],[124,0.3],[127,-0.95],[132,0.05],[134,-0.6],[137,0.4],[142,-0.3],[144,0.65],[147,-0.75],[152,0.35],[154,-0.2],[157,0.55],[162,-0.45],[164,0.2],[167,-0.8],[172,0.1],[174,0.6],[177,-0.35],[182,0.25],[184,-0.6],[187,0.7],[192,-0.25],[194,0.4],[197,-0.7],[202,0.15],[204,0.6],[207,-0.45],[212,0.5],[214,-0.2],[217,0.9],[222,-0.6],[224,0.25],[227,-0.35],[232,0.55],[234,-0.8],[237,0.3],[242,-0.5],[244,0.45],[247,0.0],[252,0.7],[254,-0.4],[257,0.35],[262,-0.25],[264,0.8],[267,-0.6],[272,0.05],[274,0.6],[277,-0.45],[282,0.4],[284,-0.15],[287,0.75],[292,-0.35],[294,0.3],[297,-0.8],[302,0.55],[304,-0.25],[307,0.1],[312,-0.5],[314,0.4],[317,-0.9],[322,0.65],[324,-0.2],[327,0.25],[332,-0.55],[334,0.35],[337,-0.7],[342,0.0],[344,0.55],[347,-0.35],[352,0.75],[354,-0.5],[357,0.2],[362,-0.25],[364,0.65]];

const ptsD = [[1,0.3],[1,-0.8],[2,1.5],[2,-0.2],[3,0.8],[3,-1.45],[4,-0.5],[4,0.1],[5,-2.35],[5,1.0],[6,-0.95],[6,0.55],[7,-0.1],[7,1.9],[8,-1.5],[8,0.7],[9,0.2],[9,-0.6],[10,2.1],[10,-1.1],
[11,0.45],[11,-0.3],[12,-2.35],[12,1.2],[13,0.85],[13,-0.75],[14,0.05],[14,-1.3],[15,1.55],[15,0.6],[16,-0.45],[16,1.85],[17,-1.0],[17,0.3],[18,0.95],[18,-0.15],[19,-1.6],[19,0.7],[20,-2.25],[20,0.15],[20,1.3],
[21,-0.55],[21,0.9],[22,-1.2],[22,0.4],[23,1.6],[23,-0.25],[24,0.65],[24,-0.9],[25,-1.85],[25,1.1],[26,0.0],[26,0.5],[27,-0.6],[27,1.45],[28,-1.35],[28,0.2],[29,0.8],[29,-0.35],[30,2.0],[30,-1.0],[30,0.35],
[31,-0.7],[31,1.05],[32,0.45],[32,-1.55],[33,-0.15],[33,0.75],[34,2.05],[34,-0.4],[35,1.25],[35,-1.1],[36,0.1],[36,0.6],[37,-0.85],[37,1.6],[38,-0.3],[38,-2.0],[39,0.95],[39,-0.6],[40,0.25],[40,-1.3],[40,1.35],
[41,0.5],[41,-0.2],[42,2.0],[42,-1.0],[43,0.8],[43,0.0],[44,-1.6],[44,1.15],[45,-0.45],[45,0.35],[46,1.7],[46,-0.8],[47,-1.25],[47,0.6],[48,-2.45],[48,0.1],[49,1.3],[49,-0.35],[50,-2.1],[50,0.85],[50,-0.7],
[51,-2.55],[51,0.3],[52,1.0],[52,-0.6],[53,2.62],[53,-0.1],[54,-1.0],[54,0.55],[55,1.45],[55,-1.4],[56,0.15],[56,-0.5],[57,2.2],[57,0.9],[58,-0.9],[58,-1.7],[59,0.4],[59,1.2],[60,-0.25],[60,-2.2],[60,0.7],
[61,1.6],[61,-0.7],[62,0.05],[62,-1.25],[63,0.85],[63,1.95],[64,-0.4],[64,-1.9],[65,0.5],[65,1.3],[66,-1.0],[66,0.2],[67,-0.2],[67,1.7],[68,-1.55],[68,0.65],[69,0.95],[69,-0.55],[70,-2.0],[70,0.35],[70,1.1],
[71,-0.85],[71,0.6],[72,1.4],[72,-1.3],[73,0.1],[73,-0.35],[74,1.9],[74,-1.7],[75,0.75],[75,-0.6],[76,1.2],[76,0.25],[77,-1.05],[77,2.1],[78,-2.62],[78,0.5],[79,-0.15],[79,1.0],[80,2.62],[80,-1.45],[80,0.05],
[81,0.8],[81,-0.5],[82,-1.2],[82,1.55],[83,0.3],[83,-1.9],[84,-0.25],[84,1.05],[85,1.95],[85,-0.8],[86,0.55],[86,-1.55],[87,1.3],[87,0.0],[88,-0.65],[88,2.2],[89,0.75],[89,-1.1],[90,0.2],[90,-2.1],[90,1.45],
[91,-0.4],[91,0.95],[92,1.7],[92,-1.3],[93,0.15],[93,-0.75],[94,1.25],[94,-1.75],[95,2.88],[95,0.45],[96,-0.2],[96,1.9],[97,-1.0],[97,0.65],[98,1.4],[98,-0.55],[99,-1.45],[99,0.0],[100,1.05],[100,-2.3],[100,0.35],
[101,1.65],[101,-0.85],[102,0.25],[102,-0.3],[103,2.45],[103,-1.2],[104,0.8],[104,-1.9],[105,1.3],[105,-0.5],[106,0.1],[106,1.85],[107,-0.95],[107,0.55],[108,-1.6],[108,1.1],[109,-0.2],[109,0.4],[110,-2.05],[110,1.5],[110,-0.7],
[111,0.9],[111,-1.35],[112,0.2],[112,1.7],[113,-0.6],[113,-2.3],[114,1.25],[114,0.0],[115,-2.5],[115,0.65],[116,-1.05],[116,1.45],[117,-0.35],[117,2.05],[118,0.45],[118,-1.75],[119,1.0],[119,-0.8],[120,-1.4],[120,0.3],[120,1.9],
[121,-0.45],[121,0.85],[122,-1.95],[122,1.4],[123,0.1],[123,-0.9],[124,2.0],[124,0.6],[125,-1.3],[125,-0.15],[126,1.15],[126,0.35],[127,-0.7],[127,-2.15],[128,1.55],[128,0.05],[129,-1.1],[129,0.8],[130,-2.45],[130,1.2],[130,-0.4],
[131,0.5],[131,-1.5],[132,1.8],[132,-0.25],[133,0.2],[133,-1.85],[134,1.0],[134,-0.6],[135,-1.2],[135,1.5],[136,0.35],[136,-0.85],[137,-2.0],[137,0.75],[138,1.25],[138,-0.1],[139,-1.45],[139,0.55],[140,-0.65],[140,1.65],[140,0.15],
[141,-1.7],[141,0.9],[142,0.4],[142,-0.35],[143,1.35],[143,-1.1],[144,-2.6],[144,0.2],[145,1.75],[145,-0.8],[146,-1.5],[146,0.6],[147,0.05],[147,1.1],[148,-2.83],[148,-0.45],[149,0.8],[149,-1.25],[150,1.45],[150,-0.2],[150,0.35],
[151,-1.0],[151,0.65],[152,1.2],[152,-1.95],[153,-0.3],[153,0.4],[154,1.6],[154,-0.7],[155,-1.4],[155,0.0],[156,0.95],[156,-0.5],[157,-1.75],[157,1.35],[158,0.2],[158,-1.1],[159,0.75],[159,-2.1],[160,1.05],[160,-0.35],[160,0.5],
[161,-0.8],[161,1.5],[162,0.3],[162,-1.5],[163,0.85],[163,-0.15],[164,-1.9],[164,1.2],[165,0.1],[165,-0.6],[166,1.7],[166,-1.2],[167,0.55],[167,-0.4],[168,1.0],[168,-2.05],[169,0.25],[169,-0.9],[170,1.4],[170,-1.45],[170,0.65],
[171,-0.25],[171,0.95],[172,-1.15],[172,1.55],[173,0.4],[173,-0.7],[174,-2.0],[174,0.15],[175,1.2],[175,-0.45],[176,0.7],[176,-1.6],[177,-0.05],[177,1.85],[178,-1.0],[178,0.5],[179,1.3],[179,-0.3],[180,-1.3],[180,0.85],[180,0.25],
[181,-0.6],[181,1.05],[182,0.35],[182,-1.5],[183,1.6],[183,-0.2],[184,0.0],[184,-0.95],[185,1.25],[185,0.6],[186,-1.25],[186,-0.5],[187,0.9],[187,1.9],[188,-1.7],[188,0.2],[189,-0.35],[189,1.45],[190,0.7],[190,-1.1],[190,0.05],
[191,-1.9],[191,0.45],[192,1.15],[192,-0.6],[193,0.25],[193,-1.35],[194,1.7],[194,-0.15],[195,0.8],[195,-0.85],[196,-2.0],[196,0.5],[197,1.35],[197,-0.4],[198,0.1],[198,-1.55],[199,2.05],[199,0.65],[200,-1.9],[200,-0.25],[200,1.0],
[201,0.3],[201,-0.8],[202,1.55],[202,-1.3],[203,0.0],[203,0.9],[204,-0.5],[204,-1.65],[205,1.85],[205,0.4],[206,-0.95],[206,1.2],[207,-0.2],[207,0.6],[208,-1.4],[208,1.5],[209,0.15],[209,-0.65],[210,1.0],[210,-2.1],[210,0.35],
[211,-0.4],[211,1.65],[212,0.7],[212,-1.15],[213,-0.05],[213,1.25],[214,-1.7],[214,0.45],[215,0.95],[215,-0.6],[216,1.8],[216,-1.0],[217,0.2],[217,-0.3],[218,1.4],[218,-1.45],[219,0.55],[219,-0.8],[220,-1.95],[220,1.05],[220,0.1],
[221,0.8],[221,-0.55],[222,-1.25],[222,1.6],[223,0.3],[223,-0.15],[224,1.2],[224,-1.8],[225,-0.7],[225,0.6],[226,1.9],[226,-1.05],[227,0.05],[227,-0.4],[228,1.35],[228,-2.05],[229,0.5],[229,-0.95],[230,1.0],[230,-0.25],[230,-1.5],
[231,0.65],[231,-0.6],[232,1.5],[232,-1.2],[233,0.15],[233,1.05],[234,-1.6],[234,-0.3],[235,-2.05],[235,0.8],[236,1.7],[236,-0.85],[237,0.3],[237,-1.35],[238,1.2],[238,-0.1],[239,-0.7],[239,0.55],[240,-1.85],[240,1.45],[240,0.0],
[241,-0.5],[241,0.9],[242,-2.45],[242,0.35],[243,1.6],[243,-1.1],[244,-0.2],[244,0.7],[245,-1.55],[245,1.25],[246,0.1],[246,-0.75],[247,1.85],[247,-1.3],[248,0.5],[248,-0.4],[249,1.05],[249,-2.1],[250,-0.95],[250,0.25],[250,1.5],
[251,-0.15],[251,-1.6],[252,0.85],[252,1.75],[253,-0.6],[253,0.4],[254,-1.25],[254,1.1],[255,0.0],[255,-2.2],[256,1.55],[256,-0.35],[257,0.65],[257,-1.0],[258,1.3],[258,-0.55],[259,-1.75],[259,0.2],[260,0.95],[260,-0.8],[260,1.9],
[261,-1.4],[261,0.5],[262,1.2],[262,-0.25],[263,-1.95],[263,0.75],[264,0.1],[264,-0.9],[265,1.65],[265,-1.5],[266,0.35],[266,-0.45],[267,1.0],[267,-2.2],[268,-2.62],[268,0.6],[269,1.45],[269,-0.7],[270,-1.25],[270,0.15],[270,0.9],
[271,-0.5],[271,1.3],[272,-2.4],[272,0.4],[273,0.85],[273,-1.1],[274,1.75],[274,-0.2],[275,0.05],[275,-1.6],[276,1.15],[276,0.6],[277,-0.85],[277,-2.05],[278,1.5],[278,0.25],[279,-0.4],[279,1.0],[280,-1.35],[280,0.7],[280,-2.0],
[281,1.85],[281,-0.6],[282,0.3],[282,-1.2],[283,1.2],[283,-0.1],[284,-1.7],[284,0.8],[285,1.6],[285,-0.75],[286,0.0],[286,-1.45],[287,1.35],[287,0.55],[288,-1.0],[288,2.05],[289,-0.3],[289,0.9],[290,-1.85],[290,1.45],[290,0.2],
[291,-0.55],[291,0.65],[292,1.75],[292,-1.25],[293,0.1],[293,-0.8],[294,1.1],[294,-1.65],[295,0.45],[295,1.95],[296,-0.35],[296,-1.0],[297,0.8],[297,1.3],[298,-1.45],[298,0.25],[299,-0.7],[299,1.6],[300,0.5],[300,-0.1],[300,2.0],
[301,-1.2],[301,0.9],[302,1.5],[302,-0.45],[303,0.2],[303,-1.6],[304,1.2],[304,-0.05],[305,2.15],[305,-0.9],[306,0.6],[306,1.75],[307,-1.3],[307,0.35],[308,-0.6],[308,1.05],[309,2.3],[309,0.0],[310,2.55],[310,-1.05],[310,0.75],
[311,-0.3],[311,1.4],[312,-2.45],[312,0.55],[313,1.9],[313,-0.75],[314,0.15],[314,1.25],[315,-1.45],[315,0.85],[316,2.92],[316,-0.2],[317,1.6],[317,-1.0],[318,0.4],[318,2.0],[319,-2.2],[319,0.95],[320,-0.5],[320,1.35],[320,0.1],
[321,-1.6],[321,0.7],[322,2.45],[322,-0.15],[323,1.15],[323,-0.85],[324,0.3],[324,1.8],[325,-1.25],[325,0.5],[326,1.45],[326,-0.4],[327,2.7],[327,0.0],[328,-1.9],[328,0.9],[329,1.25],[329,-0.65],[330,-1.05],[330,0.45],[330,1.95],
[331,0.2],[331,-1.5],[332,1.6],[332,-0.35],[333,0.75],[333,-1.75],[334,1.1],[334,-0.05],[335,2.2],[335,-0.9],[336,0.55],[336,-1.35],[337,1.3],[337,0.1],[338,-0.6],[338,1.75],[339,-1.2],[339,0.4],[340,0.9],[340,-0.25],[340,2.0],
[341,-1.0],[341,0.6],[342,1.4],[342,-0.45],[343,-1.6],[343,0.25],[344,1.9],[344,-0.8],[345,0.5],[345,1.2],[346,-1.3],[346,0.0],[347,0.8],[347,-0.55],[348,1.55],[348,-1.45],[349,0.3],[349,-0.2],[350,1.05],[350,-0.95],[350,0.65],
[351,-0.4],[351,1.7],[352,0.15],[352,-1.15],[353,0.95],[353,-0.6],[354,1.35],[354,0.4],[355,-1.0],[355,2.0],[356,-0.25],[356,0.7],[357,-1.5],[357,1.1],[358,0.05],[358,-0.7],[359,1.5],[359,0.35],[360,-0.95],[360,0.8],[361,-1.6],[361,0.2],[362,1.2],[362,-0.4],[363,0.55],[363,-1.35],[364,1.0],[364,-0.1],[365,2.0],[365,-0.8],[365,0.45]];
const ptsD2 = [[3,0.5],[5,-0.4],[8,0.15],[12,0.7],[14,-0.55],[17,0.35],[22,-0.2],[24,0.85],[27,0.05],[32,-0.45],[34,0.6],[37,0.2],[42,-0.7],[44,0.4],[47,-0.1],[52,0.75],[54,-0.35],[57,0.3],[62,-0.55],[64,0.65],[67,0.1],[72,-0.25],[74,0.8],[77,0.45],[82,-0.6],[84,0.3],[87,0.7],[92,-0.1],[94,0.5],[97,-0.75],[102,0.6],[104,0.05],[107,-0.45],[112,0.35],[114,-0.8],[117,0.75],[122,0.2],[124,-0.3],[127,0.55],[132,-0.6],[134,0.4],[137,0.0],[142,0.7],[144,-0.4],[147,0.25],[152,-0.15],[154,0.6],[157,-0.55],[162,0.8],[164,0.1],[167,-0.35],[172,0.45],[174,-0.7],[177,0.3],[182,0.65],[184,-0.25],[187,0.15],[192,-0.5],[194,0.55],[197,0.05],[202,-0.35],[204,0.75],[207,0.25],[212,-0.6],[214,0.4],[217,-0.15],[222,0.6],[224,-0.45],[227,0.2],[232,-0.05],[234,0.7],[237,-0.55],[242,0.3],[244,-0.2],[247,0.65],[252,0.1],[254,-0.7],[257,0.45],[262,-0.35],[264,0.8],[267,0.15],[272,-0.5],[274,0.35],[277,0.75],[282,-0.25],[284,0.5],[287,-0.65],[292,0.2],[294,0.7],[297,-0.3],[302,0.4],[304,-0.55],[307,0.9],[312,0.0],[314,-0.4],[317,0.6],[322,0.3],[324,-0.7],[327,0.85],[332,-0.15],[334,0.45],[337,-0.5],[342,0.7],[344,0.1],[347,-0.3],[352,0.55],[354,-0.65],[357,0.25],[362,0.8],[364,-0.2]];

const X_MIN = -17.2, X_MAX = 383.2;
const POINT_FILL = 'rgba(51,51,51,0.38)';

function labelFor(major, labels, v) {
  const i = major.indexOf(v);
  return i >= 0 ? labels[i] : '';
}

function decoPlugin(p) {
  return {
    id: 'deco',
    afterDatasetsDraw(chart) {
      const ctx = chart.ctx, a = chart.chartArea;
      ctx.save();
      ctx.strokeStyle = '#333333';
      ctx.lineWidth = 1.3;
      ctx.strokeRect(a.left, a.top, a.right - a.left, a.bottom - a.top);
      ctx.restore();
    },
    afterDraw(chart) {
      const ctx = chart.ctx, a = chart.chartArea;
      ctx.save();
      ctx.fillStyle = '#000';
      ctx.textBaseline = 'alphabetic';
      // x title
      ctx.font = '23.3px ' + FONT;
      ctx.textAlign = 'center';
      ctx.fillText('Day of the year', (a.left + a.right) / 2, a.bottom + 47.5);
      // panel tag
      ctx.font = '28px ' + FONT;
      ctx.textAlign = 'left';
      ctx.fillText(p.tag, p.tagX, p.tagY);
      // y title with sub/superscript
      const bigMain = (p.italic ? 'italic ' : '') + '23.3px ' + FONT;
      const big = '23.3px ' + FONT, small = '16.3px ' + FONT;
      ctx.font = bigMain;
      const wM = ctx.measureText(p.main).width;
      ctx.font = small;
      const wS = Math.max(ctx.measureText(p.sup).width, ctx.measureText(p.sub).width);
      ctx.font = big;
      const gap = p.rest ? 18 : 0;
      const wR = p.rest ? ctx.measureText(p.rest).width : 0;
      const total = wM + 1 + wS + gap + wR;
      const startY = p.labelBottom !== undefined ? p.labelBottom : (a.top + a.bottom) / 2 + total / 2;
      ctx.translate(a.left - 48, startY);
      ctx.rotate(-Math.PI / 2);
      ctx.font = bigMain;
      ctx.fillText(p.main, 0, 0);
      ctx.font = small;
      ctx.fillText(p.sup, wM + 1, -8.5);
      ctx.fillText(p.sub, wM + 1, 5.5);
      if (p.rest) {
        ctx.font = big;
        ctx.fillText(p.rest, wM + 1 + wS + gap, 0);
      }
      ctx.restore();
    }
  };
}

function buildPanel(canvasId, p) {
  const xAll = xMajor.concat(xMinor).sort((a, b) => a - b);
  const yAll = p.yMajor.concat(p.yMinor).sort((a, b) => a - b);
  const datasets = [];
  p.lines.forEach(l => {
    datasets.push({
      data: l.x.map((d, i) => ({ x: d, y: l.y[i] })),
      showLine: true,
      pointRadius: 0,
      borderColor: '#000000',
      borderWidth: 3.2,
      borderDash: l.dash ? [14, 14] : [],
      borderCapStyle: 'butt',
      cubicInterpolationMode: 'monotone',
      fill: false
    });
  });
  datasets.push({
    data: p.pts.map(q => ({ x: q[0], y: q[1] })),
    showLine: false,
    pointRadius: 5.5,
    pointBorderWidth: 0,
    backgroundColor: POINT_FILL,
    pointBackgroundColor: POINT_FILL
  });

  const tickFont = { family: FONT, size: 18.6 };
  return new Chart(document.getElementById(canvasId), {
    type: 'scatter',
    data: { datasets: datasets },
    options: {
      responsive: false,
      animation: false,
      devicePixelRatio: 1,
      events: [],
      layout: { padding: { left: 0, top: p.padTop, right: p.padRight, bottom: p.padBottom } },
      plugins: { legend: { display: false }, tooltip: { enabled: false } },
      scales: {
        x: {
          type: 'linear', position: 'bottom', min: X_MIN, max: X_MAX,
          afterBuildTicks: s => { s.ticks = xAll.map(v => ({ value: v })); },
          afterFit: s => { s.height = 58; s.paddingLeft = 0; s.paddingRight = 0; },
          ticks: {
            autoSkip: false, maxRotation: 0, padding: 1.5, color: '#4d4d4d', font: tickFont,
            callback: v => labelFor(xMajor, xTickLabels, v)
          },
          grid: {
            color: '#ebebeb',
            lineWidth: c => (c.tick && xMajor.includes(c.tick.value)) ? 1.4 : 0.8,
            tickColor: c => (c.tick && xMajor.includes(c.tick.value)) ? '#333333' : 'rgba(0,0,0,0)',
            tickLength: 5, tickWidth: 1.2
          },
          border: { display: false }
        },
        y: {
          type: 'linear', position: 'left', min: p.yMin, max: p.yMax,
          afterBuildTicks: s => { s.ticks = yAll.map(v => ({ value: v })); },
          afterFit: s => { s.width = p.yWidth; s.paddingTop = 0; s.paddingBottom = 0; },
          ticks: {
            autoSkip: false, padding: 3.3, color: '#4d4d4d', font: tickFont,
            callback: v => labelFor(p.yMajor, p.yLabels, v)
          },
          grid: {
            color: '#ebebeb',
            lineWidth: c => (c.tick && p.yMajor.includes(c.tick.value)) ? 1.4 : 0.8,
            tickColor: c => (c.tick && p.yMajor.includes(c.tick.value)) ? '#333333' : 'rgba(0,0,0,0)',
            tickLength: 5, tickWidth: 1.2
          },
          border: { display: false }
        }
      }
    },
    plugins: [decoPlugin(p)]
  });
}

function hline(v) {
  return { x: [X_MIN, X_MAX], y: [v, v], dash: v !== 0 };
}

buildPanel('ca', {
  pts: ptsA.concat(ptsA2),
  lines: [
    { x: curveDaysA, y: meanA, dash: false },
    { x: curveDaysA, y: upperA, dash: true },
    { x: curveDaysA, y: lowerA, dash: true }
  ],
  yMin: -10.44, yMax: 36.5, yMajor: yMajorA, yLabels: yLabelsA, yMinor: yMinorA,
  yWidth: 120, padTop: 27.5, padRight: 2.7, padBottom: 6,
  tag: '(a)', tagX: 7.5, tagY: 24.7,
  main: 'X', sup: 'MEAN', sub: 't2m', rest: '(\u00b0C)', italic: false
});

buildPanel('cb', {
  pts: ptsB.concat(ptsB2),
  lines: [
    { x: curveDaysB, y: meanB, dash: false },
    { x: curveDaysB, y: upperB, dash: true },
    { x: curveDaysB, y: lowerB, dash: true }
  ],
  yMin: -2.14, yMax: 0.96, yMajor: yMajorB, yLabels: yLabelsB, yMinor: yMinorB,
  yWidth: 116.7, padTop: 27.3, padRight: 0.7, padBottom: 5.7,
  tag: '(b)', tagX: 13.7, tagY: 24.7,
  main: 'X', sup: 'SD', sub: 't2m', rest: '(\u00b0C)', italic: false
});

buildPanel('cc', {
  pts: ptsC.concat(ptsC2),
  lines: zLevels.map(hline),
  yMin: -3.3, yMax: 3.3, yMajor: yMajorZ, yLabels: yLabelsZ, yMinor: yMinorZ,
  yWidth: 120, padTop: 33.7, padRight: 2.7, padBottom: 0.3,
  tag: '(c)', tagX: 7.5, tagY: 30.4, labelBottom: 264,
  main: 'Z', sup: 'MEAN', sub: 't2m', rest: '', italic: true
});

buildPanel('cd', {
  pts: ptsD.concat(ptsD2),
  lines: zLevels.map(hline),
  yMin: -3.3, yMax: 3.3, yMajor: yMajorZ, yLabels: yLabelsZ, yMinor: yMinorZ,
  yWidth: 116.7, padTop: 33.7, padRight: 0.7, padBottom: 0.3,
  tag: '(d)', tagX: 13.7, tagY: 30.4, labelBottom: 264,
  main: 'Z', sup: 'SD', sub: 't2m', rest: '', italic: true
});
</script>
</body>
</html>
